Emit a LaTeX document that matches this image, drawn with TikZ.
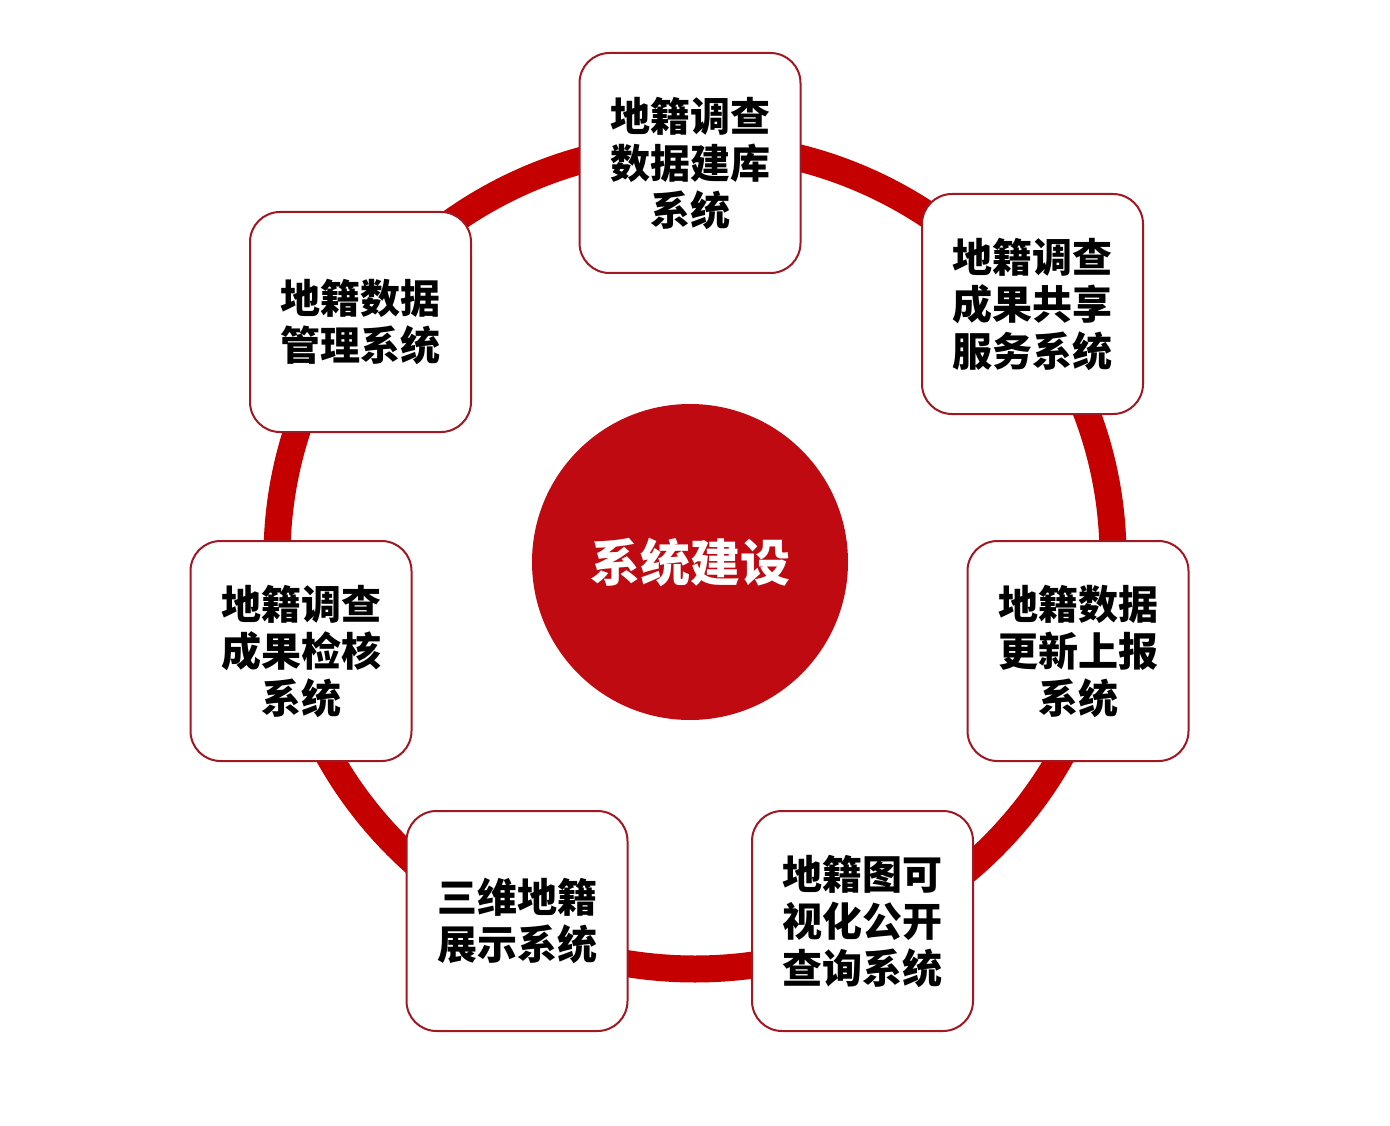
\documentclass[tikz,border=0pt]{standalone}
\usepackage{fontspec}
\newfontfamily\cjk{Noto Sans CJK SC}
\definecolor{ringred}{RGB}{196,0,0}
\definecolor{hubred}{RGB}{192,10,18}
\definecolor{boxline}{RGB}{160,24,34}
\begin{document}
\begin{tikzpicture}[x=1pt,y=-1pt,
  sysbox/.style={draw=boxline, line width=2pt, fill=white, rounded corners=30pt,
    minimum width=221pt, minimum height=220pt, inner sep=0pt, align=center,
    font={\cjk\bfseries\fontsize{40}{47}\selectfont}, text=black},
  hub/.style={circle, fill=hubred, minimum size=316pt, inner sep=0pt,
    font={\cjk\bfseries\fontsize{50}{56}\selectfont}, text=white},
  ringline/.style={draw=ringred, line width=27pt}]
\useasboundingbox[fill=white] (0,0) rectangle (1390,1126);
\coordinate (rc) at (695,557);
\draw[ringline] (rc) ellipse [x radius=418pt, y radius=412pt];
\node[hub] (h) at (690,562) {系统建设};
\node[sysbox] (b1) at (690,163) {地籍调查\\数据建库\\系统};
\node[sysbox] (b2) at (1032.5,304) {地籍调查\\成果共享\\服务系统};
\node[sysbox] (b3) at (1078,651) {地籍数据\\更新上报\\系统};
\node[sysbox] (b4) at (862.5,921) {地籍图可\\视化公开\\查询系统};
\node[sysbox] (b5) at (517,921) {三维地籍\\展示系统};
\node[sysbox] (b6) at (301,651) {地籍调查\\成果检核\\系统};
\node[sysbox] (b7) at (360.5,322) {地籍数据\\管理系统};
\end{tikzpicture}
\end{document}
